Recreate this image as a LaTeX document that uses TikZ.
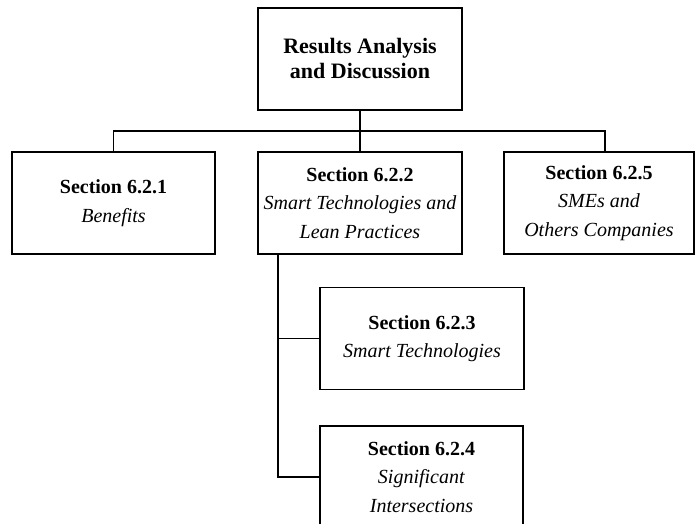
\documentclass[tikz,border=0pt]{standalone}
\usepackage{fontspec}
\setmainfont{Liberation Serif}
\begin{document}
\begin{tikzpicture}[x=1pt,y=-1pt,
  box/.style={draw,line width=1.2pt,inner sep=0pt,align=center,
    minimum height=102pt,font=\fontsize{20}{28.5}\selectfont},
  wire/.style={line width=1.2pt}]
\useasboundingbox (0,0) rectangle (697,524);
\clip (0,0) rectangle (697,524);

\node[box,minimum width=204pt,font=\fontsize{22}{25}\selectfont\bfseries]
  (top) at (360,59) {Results Analysis\\and Discussion};

\node[box,minimum width=203pt] (b1) at (113.5,203)
  {\textbf{Section 6.2.1}\\\textit{Benefits}};
\node[box,minimum width=204pt] (b2) at (360,203)
  {\textbf{Section 6.2.2}\\\textit{Smart Technologies and}\\\textit{Lean Practices}};
\node[box,minimum width=190pt] (b3) at (599,203)
  {\textbf{Section 6.2.5}\\\textit{SMEs and}\\\textit{Others Companies}};
\node[box,minimum width=204pt] (b4) at (422,338.5)
  {\textbf{Section 6.2.3}\\\textit{Smart Technologies}};
\node[box,minimum width=203pt] (b5) at (421.5,477)
  {\textbf{Section 6.2.4}\\\textit{Significant}\\\textit{Intersections}};

% top-level bus
\coordinate (bus) at (360,131);
\coordinate (j3) at ([xshift=6pt]b3.north);
\draw[wire] (top.south) -- (b2.north);
\draw[wire] (b1.north) |- (bus) -| (j3);

% sub-branch under section 6.2.2
\coordinate (t) at ([xshift=-82pt]b2.south);
\draw[wire] (t) |- (b5.west);
\draw[wire] (t |- b4.west) -- (b4.west);
\end{tikzpicture}
\end{document}
